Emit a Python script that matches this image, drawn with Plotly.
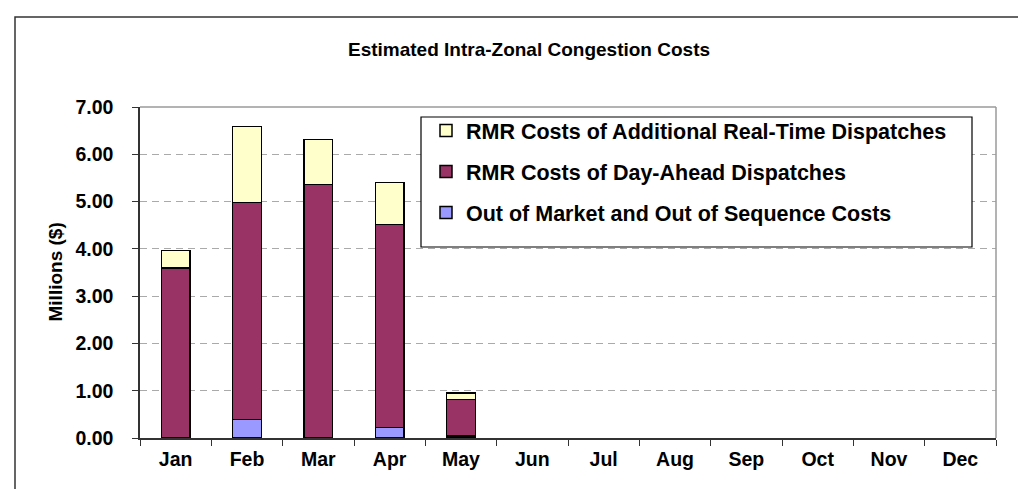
import plotly.graph_objects as go

months = ["Jan", "Feb", "Mar", "Apr", "May", "Jun", "Jul", "Aug", "Sep", "Oct", "Nov", "Dec"]
out_of_market = [0.0, 0.39, 0.0, 0.22, 0.04, None, None, None, None, None, None, None]
day_ahead = [3.59, 4.59, 5.36, 4.30, 0.77, None, None, None, None, None, None, None]
real_time = [0.38, 1.61, 0.95, 0.88, 0.14, None, None, None, None, None, None, None]

names = [
    "Out of Market and Out of Sequence Costs",
    "RMR Costs of Day-Ahead Dispatches",
    "RMR Costs of Additional Real-Time Dispatches",
]
colors = ["#9999FF", "#993366", "#FFFFCC"]
ranks = [3, 2, 1]

W, H = 1026, 489
L, R, T, B = 132, 988, 99, 430
pw, ph = R - L, B - T

FONT = "Arial, Liberation Sans, sans-serif"

fig = go.Figure()
for i, (vals, nm, c, rk) in enumerate(zip([out_of_market, day_ahead, real_time], names, colors, ranks)):
    fig.add_trace(go.Bar(
        x=months, y=vals, name=nm, legendgroup=f"g{i}", legendrank=rk,
        marker=dict(color=c, line=dict(color="#000000", width=1.5)),
    ))

def px_x(px):
    return (px - L) / pw

def px_y(py):
    return (B - py) / ph

fig.update_layout(
    width=W, height=H,
    margin=dict(l=L, r=W - R, t=T, b=H - B, pad=0),
    barmode="stack", bargap=0.6,
    paper_bgcolor="white", plot_bgcolor="white",
    font=dict(family=FONT, color="#000000"),
    showlegend=True,
    title=dict(
        text="Estimated Intra-Zonal Congestion Costs",
        font=dict(family=FONT, size=19, weight="bold", color="#000000"),
        xref="container", yref="container",
        x=521 / W, y=1 - 41 / H, xanchor="center", yanchor="middle",
    ),
    legend=dict(
        x=px_x(418), y=px_y(102), xanchor="left", yanchor="top",
        bgcolor="rgba(0,0,0,0)", borderwidth=0,
        font=dict(family=FONT, size=21.5, weight="bold", color="#000000"),
        traceorder="grouped", tracegroupgap=10,
    ),
    xaxis=dict(
        type="category", showgrid=False, showline=True, linecolor="#333333", linewidth=1.5,
        ticks="outside", ticklen=6, tickcolor="#333333", tickwidth=1.2, tickson="boundaries",
        tickfont=dict(family=FONT, size=19.5, weight="bold", color="#000000"),
        ticklabelstandoff=3, range=[-0.5, 11.5],
    ),
    yaxis=dict(
        range=[0, 7], dtick=1, tickformat=".2f", showline=True, linecolor="#333333", linewidth=1.5,
        ticks="outside", ticklen=6, tickcolor="#333333", tickwidth=1.2,
        showgrid=True, gridcolor="#AAAAAA", gridwidth=1, griddash="7px,5px",
        zeroline=False,
        tickfont=dict(family=FONT, size=19.5, weight="bold", color="#000000"),
        ticklabelstandoff=15,
    ),
)

fig.add_annotation(
    text="Millions ($)", xref="paper", yref="paper", x=px_x(47), y=0.5,
    textangle=-90, showarrow=False, xanchor="center", yanchor="middle",
    font=dict(family=FONT, size=19, weight="bold", color="#000000"),
)

shapes = [
    dict(type="line", xref="paper", yref="paper", x0=0, x1=1, y0=1, y1=1,
         line=dict(color="#9A9A9A", width=1.5), layer="above"),
    dict(type="line", xref="paper", yref="paper", x0=1, x1=1, y0=0, y1=1,
         line=dict(color="#9A9A9A", width=1.5), layer="above"),
    dict(type="rect", xref="paper", yref="paper",
         x0=px_x(413), x1=px_x(964), y0=px_y(239), y1=px_y(109),
         fillcolor="white", line=dict(color="#000000", width=1.2), layer="above"),
    dict(type="rect", xref="paper", yref="paper",
         x0=px_x(7), x1=px_x(1040), y0=px_y(500), y1=px_y(9),
         fillcolor="rgba(0,0,0,0)", line=dict(color="#333333", width=1.5), layer="above"),
]
fig.update_layout(shapes=shapes)

fig.write_html("out.html")
